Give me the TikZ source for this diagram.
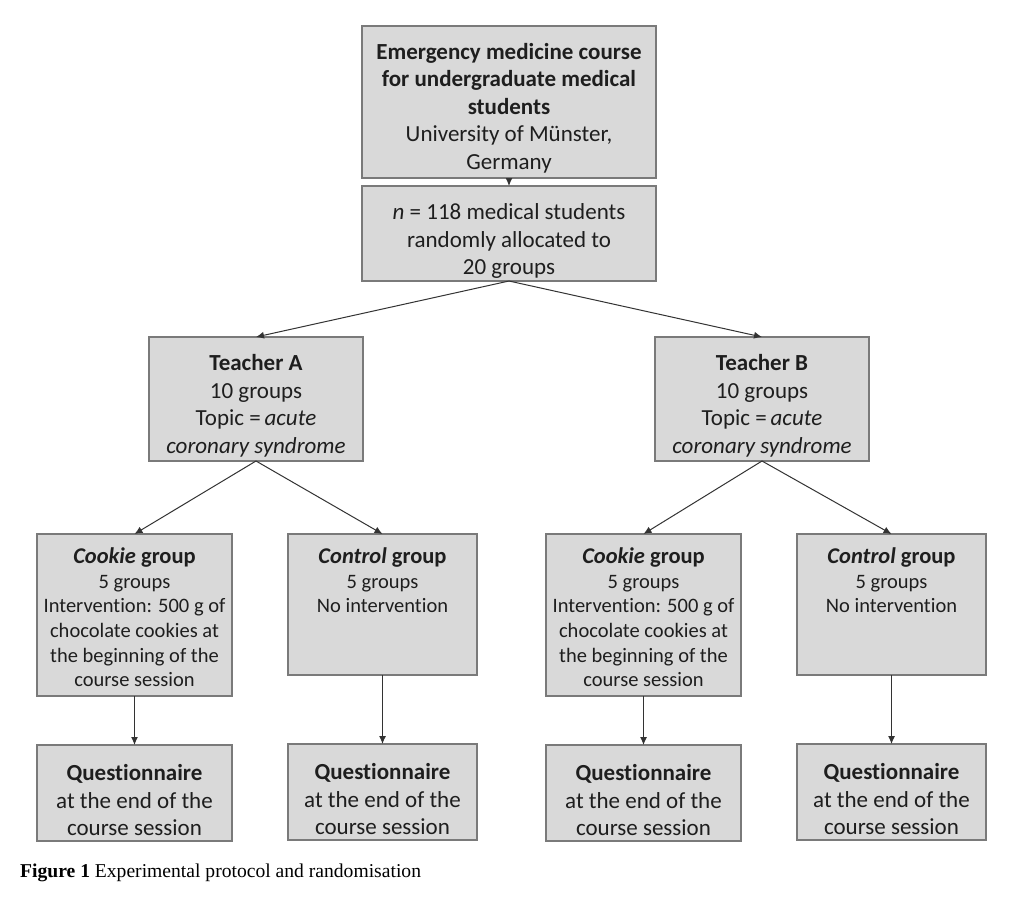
\documentclass[tikz,border=0pt]{standalone}
\usepackage{fontspec}
\setmainfont[Ligatures={NoCommon,NoContextual,NoRare}]{Carlito}
\newfontfamily\capfont{Liberation Serif}
\usetikzlibrary{arrows.meta}
\definecolor{boxfill}{HTML}{D9D9D9}
\definecolor{boxline}{HTML}{7A7A7A}
\definecolor{txt}{HTML}{1E1E1E}
\definecolor{arr}{HTML}{333333}
\tikzset{
  box/.style={draw=boxline, line width=1.1pt, fill=boxfill, inner sep=0pt, outer sep=0pt},
  big/.style={align=center, text=txt, inner sep=0pt, font=\fontsize{23}{27.5}\selectfont},
  small/.style={align=center, text=txt, inner sep=0pt, font=\fontsize{20.5}{24.5}\selectfont},
  conn/.style={draw=arr, line width=1pt, -{Latex[length=8pt,width=7pt]}},
}
\begin{document}
\begin{tikzpicture}[x=1pt,y=-1pt]
\useasboundingbox[fill=white] (0,0) rectangle (1024,897);
% boxes
\node[box, minimum width=294pt, minimum height=152pt] (top) at (509,102) {};
\node[box, minimum width=294pt, minimum height=95pt] (n) at (509,233.5) {};
\node[box, minimum width=214pt, minimum height=124pt] (ta) at (256,399) {};
\node[box, minimum width=214pt, minimum height=124pt] (tb) at (762,399) {};
\node[box, minimum width=195pt, minimum height=162pt] (ca) at (134.5,615) {};
\node[box, minimum width=189pt, minimum height=141pt] (oa) at (382.5,604.5) {};
\node[box, minimum width=195pt, minimum height=162pt] (cb) at (643.5,615) {};
\node[box, minimum width=189pt, minimum height=141pt] (ob) at (891.5,604.5) {};
\node[box, minimum width=195pt, minimum height=96pt] (qa) at (134.5,793) {};
\node[box, minimum width=189pt, minimum height=96pt] (qoa) at (382.5,792) {};
\node[box, minimum width=195pt, minimum height=96pt] (qb) at (643.5,793) {};
\node[box, minimum width=189pt, minimum height=96pt] (qob) at (891.5,792) {};
% texts
\node[big] (toptxt) at (509,108) {\textbf{Emergency medicine course}\\\textbf{for undergraduate medical}\\\textbf{students}\\University of Münster,\\Germany};
\node[big] (ntxt) at (509,241) {\textit{n} = 118 medical students\\randomly allocated to\\20 groups};
\node[big] (tatxt) at (256,406) {\textbf{Teacher A}\\10 groups\\Topic =\,\textit{acute}\\\textit{coronary syndrome}};
\node[big] (tbtxt) at (762,406) {\textbf{Teacher B}\\10 groups\\Topic =\,\textit{acute}\\\textit{coronary syndrome}};
\node[small, anchor=north] (catxt) at (134.5,548) {{\fontsize{22.5}{24.5}\selectfont\textbf{\textit{Cookie} group}}\\5 groups\\Intervention: 500 g of\\chocolate cookies at\\the beginning of the\\course session};
\node[small, anchor=north] (oatxt) at (382.5,548) {{\fontsize{22.5}{24.5}\selectfont\textbf{\textit{Control} group}}\\5 groups\\No intervention};
\node[small, anchor=north] (cbtxt) at (643.5,548) {{\fontsize{22.5}{24.5}\selectfont\textbf{\textit{Cookie} group}}\\5 groups\\Intervention: 500 g of\\chocolate cookies at\\the beginning of the\\course session};
\node[small, anchor=north] (obtxt) at (891.5,548) {{\fontsize{22.5}{24.5}\selectfont\textbf{\textit{Control} group}}\\5 groups\\No intervention};
\node[big] (qatxt) at (134.5,800) {\textbf{Questionnaire}\\at the end of the\\course session};
\node[big] (qoatxt) at (382.5,799) {\textbf{Questionnaire}\\at the end of the\\course session};
\node[big] (qbtxt) at (643.5,800) {\textbf{Questionnaire}\\at the end of the\\course session};
\node[big] (qobtxt) at (891.5,799) {\textbf{Questionnaire}\\at the end of the\\course session};
% caption
\node[anchor=base west, inner sep=0pt, text=black, font=\capfont\fontsize{19.6}{22}\selectfont] (cap) at (20,877) {\textbf{Figure 1} Experimental protocol and randomisation};
% connectors
\draw[conn] (top.south) -- (n.north);
\draw[conn] (n.south) -- (ta.north);
\draw[conn] (n.south) -- (tb.north);
\draw[conn] (ta.south) -- (ca.north);
\draw[conn] (ta.south) -- (oa.north);
\draw[conn] (tb.south) -- (cb.north);
\draw[conn] (tb.south) -- (ob.north);
\draw[conn] (ca.south) -- (qa.north);
\draw[conn] (oa.south) -- (qoa.north);
\draw[conn] (cb.south) -- (qb.north);
\draw[conn] (ob.south) -- (qob.north);
\end{tikzpicture}
\end{document}
